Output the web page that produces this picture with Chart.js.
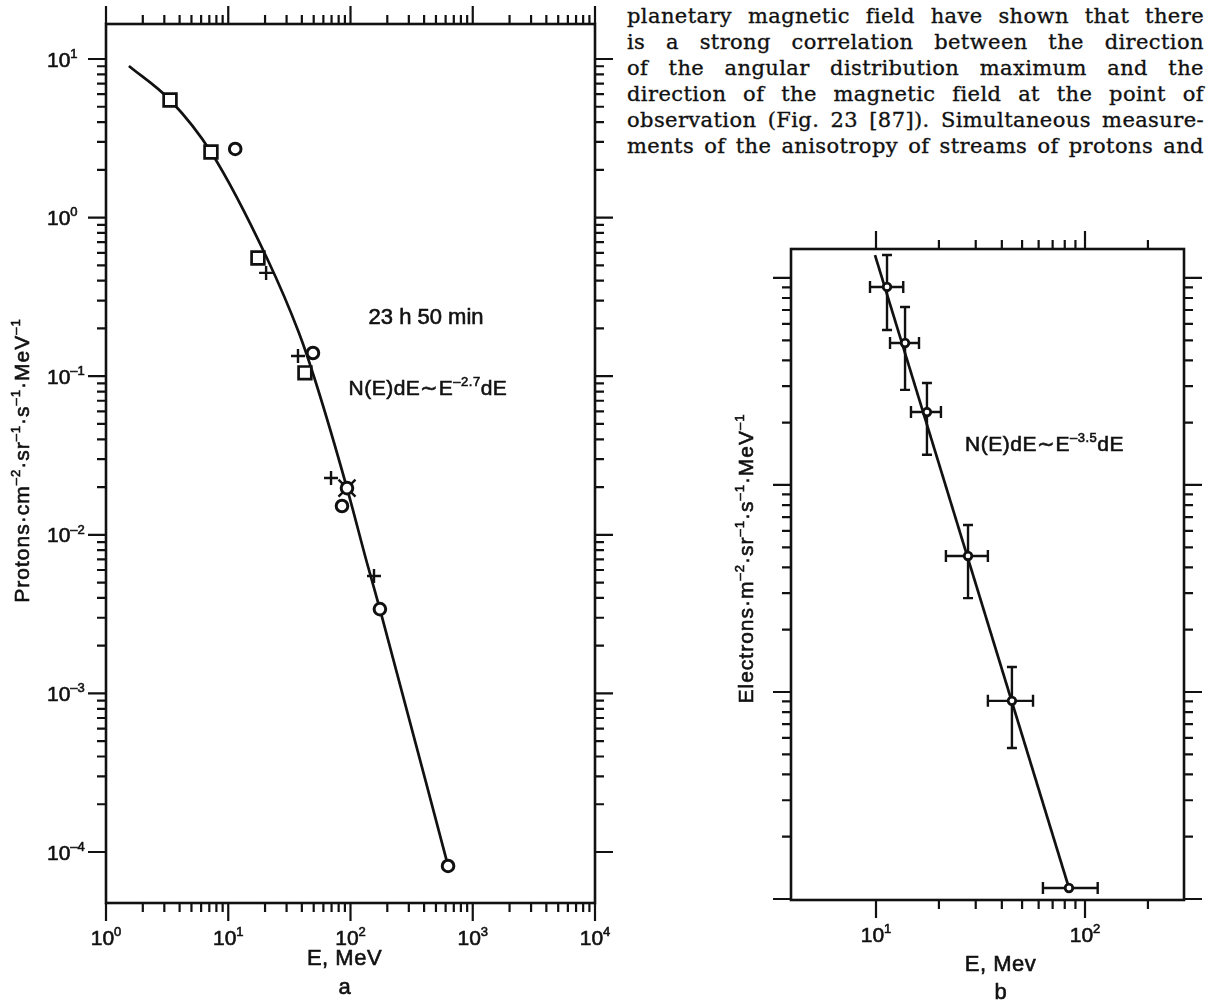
<!DOCTYPE html>
<html>
<head>
<meta charset="utf-8">
<script src="https://cdn.jsdelivr.net/npm/chart.js@4.4.1/dist/chart.umd.min.js"></script>
<style>
  body { margin: 0; background: #fff; }
  #page { position: relative; width: 1210px; height: 1005px; overflow: hidden; background: #fff; }
  #text { position: absolute; left: 627px; top: 3px; width: 577px; font-family: 'DejaVu Serif', serif; font-size: 21px; line-height: 26px; letter-spacing: 0.4px; color: #111; -webkit-text-stroke: 0.35px #111; }
  #text div { display: flex; justify-content: space-between; white-space: nowrap; }
  .box { position: absolute; }
</style>
</head>
<body>
<div id="page">
  <div id="text">
    <div>planetary magnetic field have shown that there</div>
    <div>is a strong correlation between the direction</div>
    <div>of the angular distribution maximum and the</div>
    <div>direction of the magnetic field at the point of</div>
    <div>observation (Fig. 23 [87]). Simultaneous measure-</div>
    <div>ments of the anisotropy of streams of protons and</div>
  </div>
  <div class="box" style="left:0;top:0"><canvas id="chartA" width="620" height="1005"></canvas></div>
  <div class="box" style="left:700px;top:200px"><canvas id="chartB" width="510" height="805"></canvas></div>
</div>
<script>
// panel a: protons, E in MeV, flux in cm^-2 sr^-1 s^-1 MeV^-1
const squareE = [3.34, 7.22, 17.5, 42.4];
const squareFlux = [5.51, 2.59, 0.556, 0.105];
const circleE = [11.4, 49.3, 85.2, 174, 628];
const circleFlux = [2.71, 0.140, 0.0152, 0.0034, 8.17e-5];
const starE = [93.6];
const starFlux = [0.0197];
const plusE = [20.4, 37.2, 69.3, 155.7];
const plusFlux = [0.448, 0.134, 0.0228, 0.0055];
const curveE = [1.54, 3.34, 7.22, 20.7, 37.9, 52.2, 93.6, 136.5, 174, 628];
const curveFlux = [9.03, 5.51, 2.59, 0.556, 0.187, 0.0906, 0.0197, 0.00664, 0.0034, 8.17e-5];
const expXA = [0, 1, 2, 3, 4];
const expYA = [1, 0, -1, -2, -3, -4];

// panel b: electrons, with error bars
const elecE = [11.29, 13.77, 17.53, 27.56, 44.7, 83.8];
const elecFlux = [90.5, 48.5, 22.5, 4.54, 0.906, 0.113];
const elecELow = [9.36, 11.67, 14.7, 21.6, 34.3, 62.9];
const elecEHigh = [13.5, 16.06, 20.45, 34.3, 56.4, 115];
const elecFluxLow = [56.1, 28.8, 14.0, 2.84, 0.536, null];
const elecFluxHigh = [129, 72.4, 31.1, 6.41, 1.32, null];
const fitE = [9.89, 83.8];
const fitFlux = [129, 0.113];
const expXB = [1, 2];

const ink = '#111';
const FONT = '"Liberation Sans", Arial, sans-serif';

// justify each printed line word by word
document.querySelectorAll('#text div').forEach(d => {
  d.innerHTML = d.textContent.trim().split(/\s+/).map(w => '<span>' + w + '</span>').join('');
});

const pts = (xs, ys) => xs.map((x, i) => ({ x, y: ys[i] }));

// "a^{b}" -> pieces with superscripts
const rich = s => s.split(/(\^\{[^}]*\})/).filter(Boolean)
  .map(t => t.startsWith('^{') ? { t: t.slice(2, -1), sup: true } : { t, sup: false });

function drawRich(ctx, parts, x, y, size, align, spacing) {
  const supSize = Math.round(size * 0.64);
  ctx.letterSpacing = (spacing || 0) + 'px';
  const widths = parts.map(p => {
    ctx.font = (p.sup ? supSize : size) + 'px ' + FONT;
    return ctx.measureText(p.t).width;
  });
  const total = widths.reduce((s, w) => s + w, 0);
  let cx = align === 'center' ? x - total / 2 : align === 'right' ? x - total : x;
  const base = y + size * 0.36;
  ctx.textAlign = 'left';
  ctx.textBaseline = 'alphabetic';
  ctx.lineWidth = 0.6;
  parts.forEach((p, i) => {
    ctx.font = (p.sup ? supSize : size) + 'px ' + FONT;
    const ty = p.sup ? base - size * 0.42 : base;
    ctx.fillText(p.t, cx, ty);
    ctx.strokeText(p.t, cx, ty);
    cx += widths[i];
  });
  ctx.letterSpacing = '0px';
}

const powLabel = e => rich('10^{' + (e < 0 ? '\u2013' + (-e) : e) + '}');

function logTicks(min, max) {
  const out = [];
  for (let e = Math.floor(Math.log10(min)) - 1; e <= Math.ceil(Math.log10(max)); e++) {
    for (let m = 1; m < 10; m++) {
      const v = m * Math.pow(10, e);
      if (v >= min * 0.999 && v <= max * 1.001) out.push({ v, major: m === 1 });
    }
  }
  return out;
}

// box, outward ticks on all four sides, labels and notes
function framePlugin(cfg) {
  return {
    id: 'frame' + cfg.name,
    beforeDatasetsDraw(chart) {
      if (cfg.errorBars) cfg.errorBars(chart);
    },
    afterDatasetsDraw(chart) {
      const { ctx, chartArea: a, scales: { x, y } } = chart;
      ctx.save();
      ctx.strokeStyle = ink;
      ctx.fillStyle = ink;
      ctx.lineWidth = 2.6;
      ctx.strokeRect(a.left, a.top, a.right - a.left, a.bottom - a.top);

      ctx.lineWidth = 2.2;
      ctx.beginPath();
      logTicks(cfg.xTicks[0], cfg.xTicks[1]).forEach(t => {
        const p = x.getPixelForValue(t.v);
        const len = t.major ? 18 : 9;
        ctx.moveTo(p, a.bottom); ctx.lineTo(p, a.bottom + len);
        ctx.moveTo(p, a.top); ctx.lineTo(p, a.top - len);
      });
      logTicks(cfg.yTicks[0], cfg.yTicks[1]).forEach(t => {
        const p = y.getPixelForValue(t.v);
        const len = t.major ? 18 : 9;
        ctx.moveTo(a.left, p); ctx.lineTo(a.left - len, p);
        ctx.moveTo(a.right, p); ctx.lineTo(a.right + len, p);
      });
      ctx.stroke();

      cfg.xLabels.forEach(e => drawRich(ctx, powLabel(e), x.getPixelForValue(Math.pow(10, e)), a.bottom + cfg.xLabelDy, 21, 'center'));
      (cfg.yLabels || []).forEach(e => drawRich(ctx, powLabel(e), a.left + cfg.yLabelDx, y.getPixelForValue(Math.pow(10, e)), 21, 'left'));

      const midX = (a.left + a.right) / 2;
      drawRich(ctx, rich(cfg.xTitle), midX + cfg.xTitleDx, a.bottom + cfg.xTitleDy, 22, 'center', 0.5);
      drawRich(ctx, rich(cfg.letter), midX + cfg.xTitleDx, a.bottom + cfg.letterDy, 22, 'center');

      ctx.save();
      ctx.translate(a.left + cfg.yTitleDx, (a.top + a.bottom) / 2 + cfg.yTitleDy);
      ctx.rotate(-Math.PI / 2);
      drawRich(ctx, rich(cfg.yTitle), 0, 0, 21, 'center', 1);
      ctx.restore();

      cfg.notes.forEach(n => drawRich(ctx, rich(n.text), x.getPixelForValue(n.E), y.getPixelForValue(n.flux), n.size, 'center', n.spacing || 0));
      ctx.restore();
    }
  };
}

const baseOptions = (pad, xr, yr) => ({
  responsive: false,
  animation: false,
  events: [],
  layout: { padding: pad },
  scales: {
    x: { type: 'logarithmic', min: xr[0], max: xr[1], display: false },
    y: { type: 'logarithmic', min: yr[0], max: yr[1], display: false }
  },
  plugins: { legend: { display: false }, tooltip: { enabled: false } }
});

const marker = (data, style, r, bw, order) => ({
  data, pointStyle: style, pointRadius: r, borderWidth: bw,
  borderColor: ink, backgroundColor: '#fff', order
});

// error bars drawn through the chart scales
function electronErrors(chart) {
  const { ctx, scales: { x, y } } = chart;
  ctx.save();
  ctx.strokeStyle = ink;
  ctx.lineWidth = 2.4;
  ctx.beginPath();
  elecE.forEach((e, i) => {
    const px = x.getPixelForValue(e);
    const py = y.getPixelForValue(elecFlux[i]);
    const x0 = x.getPixelForValue(elecELow[i]);
    const x1 = x.getPixelForValue(elecEHigh[i]);
    ctx.moveTo(x0, py); ctx.lineTo(x1, py);
    ctx.moveTo(x0, py - 6); ctx.lineTo(x0, py + 6);
    ctx.moveTo(x1, py - 6); ctx.lineTo(x1, py + 6);
    if (elecFluxLow[i] !== null) {
      const y0 = y.getPixelForValue(elecFluxLow[i]);
      const y1 = y.getPixelForValue(elecFluxHigh[i]);
      ctx.moveTo(px, y0); ctx.lineTo(px, y1);
      ctx.moveTo(px - 5, y0); ctx.lineTo(px + 5, y0);
      ctx.moveTo(px - 5, y1); ctx.lineTo(px + 5, y1);
    }
  });
  ctx.stroke();
  ctx.restore();
}

new Chart(document.getElementById('chartA'), {
  type: 'scatter',
  data: {
    datasets: [
      marker(pts(squareE, squareFlux), 'rect', 9, 2.7, 1),
      marker(pts(circleE, circleFlux), 'circle', 5.8, 3, 1),
      marker(pts(starE, starFlux), 'circle', 5.8, 3, 2),
      marker(pts(starE, starFlux), 'crossRot', 12, 2.4, 3),
      marker(pts(plusE, plusFlux), 'cross', 7, 2.4, 1),
      {
        type: 'line', data: pts(curveE, curveFlux), showLine: true, pointRadius: 0,
        borderColor: ink, borderWidth: 2.7, cubicInterpolationMode: 'monotone', order: 5
      }
    ]
  },
  options: baseOptions({ left: 106, right: 25, top: 24, bottom: 102 }, [1, 1e4], [4.77e-5, 16.62]),
  plugins: [framePlugin({
    name: 'A',
    xTicks: [1, 1e4], yTicks: [1e-4, 10],
    xLabels: expXA, yLabels: expYA,
    xLabelDy: 34, yLabelDx: -59,
    xTitle: 'E, MeV', xTitleDx: -6, xTitleDy: 54,
    letter: 'a', letterDy: 83,
    yTitle: 'Protons\u00b7cm^{\u20132}\u00b7sr^{\u20131}\u00b7s^{\u20131}\u00b7MeV^{\u20131}', yTitleDx: -85, yTitleDy: -3,
    notes: [
      { text: '23 h 50 min', E: 415, flux: 0.24, size: 22 },
      { text: 'N(E)dE\u223cE^{\u20132.7}dE', E: 430, flux: 0.0855, size: 21, spacing: 0.5 }
    ]
  })]
});

new Chart(document.getElementById('chartB'), {
  type: 'scatter',
  data: {
    datasets: [
      marker(pts(elecE, elecFlux), 'circle', 3.8, 2.8, 1),
      {
        type: 'line', data: pts(fitE, fitFlux), showLine: true, pointRadius: 0,
        borderColor: ink, borderWidth: 2.7, order: 5
      }
    ]
  },
  options: baseOptions({ left: 91, right: 26, top: 49, bottom: 105 }, [3.92, 297.6], [0.0989, 138]),
  plugins: [framePlugin({
    name: 'B',
    errorBars: electronErrors,
    xTicks: [10, 297.6], yTicks: [0.1, 100],
    xLabels: expXB, yLabels: [],
    xLabelDy: 34, yLabelDx: 0,
    xTitle: 'E, Mev', xTitleDx: 13, xTitleDy: 63,
    letter: 'b', letterDy: 91,
    yTitle: 'Electrons\u00b7m^{\u20132}\u00b7sr^{\u20131}\u00b7s^{\u20131}\u00b7MeV^{\u20131}', yTitleDx: -46, yTitleDy: -16,
    notes: [
      { text: 'N(E)dE\u223cE^{\u20133.5}dE', E: 64, flux: 15.9, size: 21, spacing: 0.5 }
    ]
  })]
});
</script>
</body>
</html>
